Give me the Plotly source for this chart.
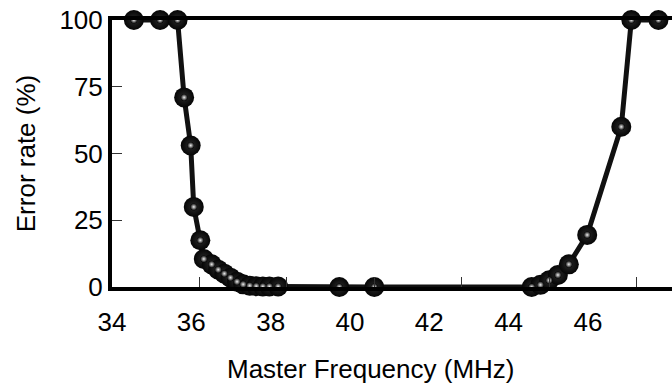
import plotly.graph_objects as go

# Master frequency (MHz) and error rate (%)
freq = [34.5, 35.1, 35.5, 35.65, 35.8, 35.87, 36.02, 36.1, 36.28, 36.43, 36.57,
        36.71, 36.86, 37.0, 37.15, 37.3, 37.45, 37.6, 37.8, 39.2, 40.0,
        43.6, 43.8, 44.0, 44.2, 44.45, 44.87, 45.65, 45.88, 46.5]
error = [100, 100, 100, 71, 53, 30, 17.5, 10.5, 8.5, 6.5, 5,
         3.5, 2, 1, 0.5, 0.3, 0.2, 0.2, 0.2, 0, 0,
         0, 0.8, 2.5, 4.5, 8.5, 19.5, 60, 100, 100]

x_ticks = [36, 38, 40, 42, 44, 46]
x_labels = [34, 36, 38, 40, 42, 44, 46]
y_ticks = [0, 25, 50, 75, 100]

FONT = "Liberation Sans, Arial, sans-serif"

fig = go.Figure()
fig.add_trace(go.Scatter(
    x=freq, y=error, mode="lines+markers",
    line=dict(color="#111111", width=5),
    marker=dict(size=20, color="#050505", line=dict(width=0),
                gradient=dict(type="radial", color="#2a2a2a")),
    cliponaxis=False, showlegend=False, hoverinfo="skip"))
fig.add_trace(go.Scatter(
    x=freq, y=error, mode="markers",
    marker=dict(size=7, color="#050505", line=dict(width=0),
                gradient=dict(type="radial", color="#f0f0f0")),
    cliponaxis=False, showlegend=False, hoverinfo="skip"))
# carrier for the label axis
fig.add_trace(go.Scatter(x=[], y=[], xaxis="x2", showlegend=False, hoverinfo="skip"))

fig.update_layout(
    width=672, height=387,
    margin=dict(l=112, r=0, t=20, b=100),
    paper_bgcolor="white", plot_bgcolor="white",
    font=dict(family=FONT, size=26, color="black"),
    xaxis=dict(range=[34, 46.81], tickvals=x_ticks, showticklabels=False,
               ticks="inside", ticklen=10, tickwidth=1, tickcolor="#333",
               showline=True, linewidth=4, linecolor="black", mirror=True,
               showgrid=False, zeroline=False),
    xaxis2=dict(overlaying="x", anchor="y", side="bottom",
                range=[34, 48.12], tickvals=x_labels,
                ticks="", showline=False, showgrid=False, zeroline=False,
                tickfont=dict(family=FONT, size=26, color="black"),
                ticklabelstandoff=17),
    yaxis=dict(range=[0, 100], tickvals=y_ticks,
               ticks="inside", ticklen=10, tickwidth=1, tickcolor="#333",
               showline=True, linewidth=4, linecolor="black", mirror=False,
               showgrid=False, zeroline=False,
               tickfont=dict(family=FONT, size=26, color="black"),
               title=dict(text="Error rate (%)", standoff=17,
                          font=dict(family=FONT, size=26, color="black"))),
    annotations=[dict(text="Master Frequency (MHz)", xref="paper", yref="paper",
                      x=0.463, y=-0.307, xanchor="center", yanchor="middle",
                      showarrow=False,
                      font=dict(family=FONT, size=26, color="black"))],
)

fig.write_html("out.html")
